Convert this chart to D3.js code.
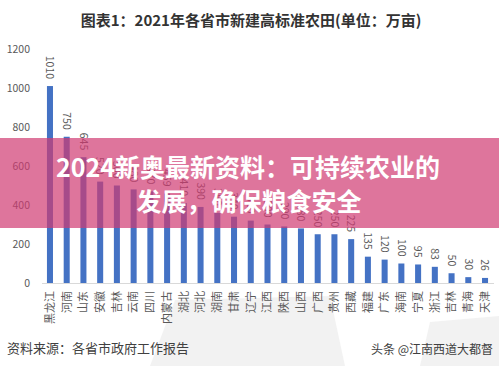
<!DOCTYPE html>
<html><head><meta charset="utf-8">
<script src="https://cdn.jsdelivr.net/npm/d3@7/dist/d3.min.js"></script>
<style>body{margin:0;background:#fff;}svg{display:block;}</style>
</head><body>
<script>
const categories = ["黑龙江","河南","山东","安徽","吉林","云南","四川","内蒙古","湖北","河北","湖南","甘肃","辽宁","江西","陕西","山西","广西","贵州","西藏","福建","广东","海南","宁夏","浙江","吉林","青海","天津"];
const values = [1010,750,645,520,500,480,470,459,410,390,360,340,320,300,290,280,250,250,225,135,120,100,95,83,50,30,26];
const yTicks = [0,200,400,600,800,1000,1200];
const title = "图表1：2021年各省市新建高标准农田(单位：万亩)";
const bannerLines = ["2024新奥最新资料：可持续农业的","发展，确保粮食安全"];
const source = "资料来源：各省市政府工作报告";
const credit = "头条 @江南西道大都督";

const W = 499, H = 366;
const font = "'Noto Sans CJK SC','Noto Sans',sans-serif";
const svg = d3.select("body").append("svg").attr("width", W).attr("height", H).style("font-family", font);
svg.append("rect").attr("width", W).attr("height", H).attr("fill", "#fff");

// faint background shapes near the bottom
svg.append("path").attr("d","M150,366 L175,300 L330,296 L345,366 Z").attr("fill","#ececec").attr("opacity",0.7);
svg.append("path").attr("d","M420,366 L430,322 L499,316 L499,366 Z").attr("fill","#ececec").attr("opacity",0.7);

const x = d3.scaleBand().domain(d3.range(categories.length)).range([41.6, 493.4]).paddingInner(0.64).paddingOuter(0.32);
const y = d3.scaleLinear().domain([0,1200]).range([283,49]);

svg.append("text").attr("x", 251).attr("y", 26).attr("text-anchor","middle")
  .attr("font-size", 15).attr("font-weight","bold").attr("fill","#333").text(title);

// y axis labels
const yAxis = d3.axisLeft(y).tickValues(yTicks).tickSize(0).tickPadding(0).tickFormat(d3.format("d"));
const ya = svg.append("g").attr("transform","translate(30,0)").call(yAxis);
ya.select(".domain").remove();
ya.selectAll("text").attr("font-size",10.5).attr("fill","#595959").attr("font-family",font);

// bars
svg.append("g").selectAll("rect").data(values).join("rect")
  .attr("x",(d,i)=>x(i)).attr("width",x.bandwidth())
  .attr("y",d=>y(d)).attr("height",d=>y(0)-y(d)).attr("fill","#4472c4");

// baseline
const xAxis = d3.axisBottom(x).tickSize(0).tickPadding(0).tickFormat(i=>categories[i]);
const xa = svg.append("g").attr("transform",`translate(0,${y(0)})`).call(xAxis);
xa.select(".domain").attr("stroke","#d9d9d9").attr("d",`M42,0.5H494`);
xa.selectAll("text").attr("font-size",11).attr("fill","#595959").attr("font-family",font)
  .attr("text-anchor","end").attr("dy","0.35em").attr("transform","translate(0,8) rotate(-90)").attr("x",0).attr("y",0);

// value labels
svg.append("g").selectAll("text").data(values).join("text")
  .attr("transform",(d,i)=>`translate(${x(i)+x.bandwidth()/2},${y(d)-7}) rotate(90)`)
  .attr("text-anchor","end").attr("dy","0.35em")
  .attr("font-size",10.5).attr("fill","#595959").text(d=>d);

// source & credit
svg.append("text").attr("x",7).attr("y",353).attr("font-size",13).attr("fill","#404040").text(source);
svg.append("text").attr("x",493).attr("y",354).attr("text-anchor","end").attr("font-size",12).attr("fill","#404040").text(credit);

// banner
svg.append("rect").attr("x",0).attr("y",138).attr("width",W).attr("height",90).attr("fill","rgba(208,59,114,0.7)");
const bt = svg.append("g").attr("font-size",25).attr("font-weight","bold").attr("fill","#fff").attr("text-anchor","middle");
bt.append("text").attr("x",248).attr("y",177).text(bannerLines[0]);
bt.append("text").attr("x",249).attr("y",211).text(bannerLines[1]);
</script>
</body></html>
